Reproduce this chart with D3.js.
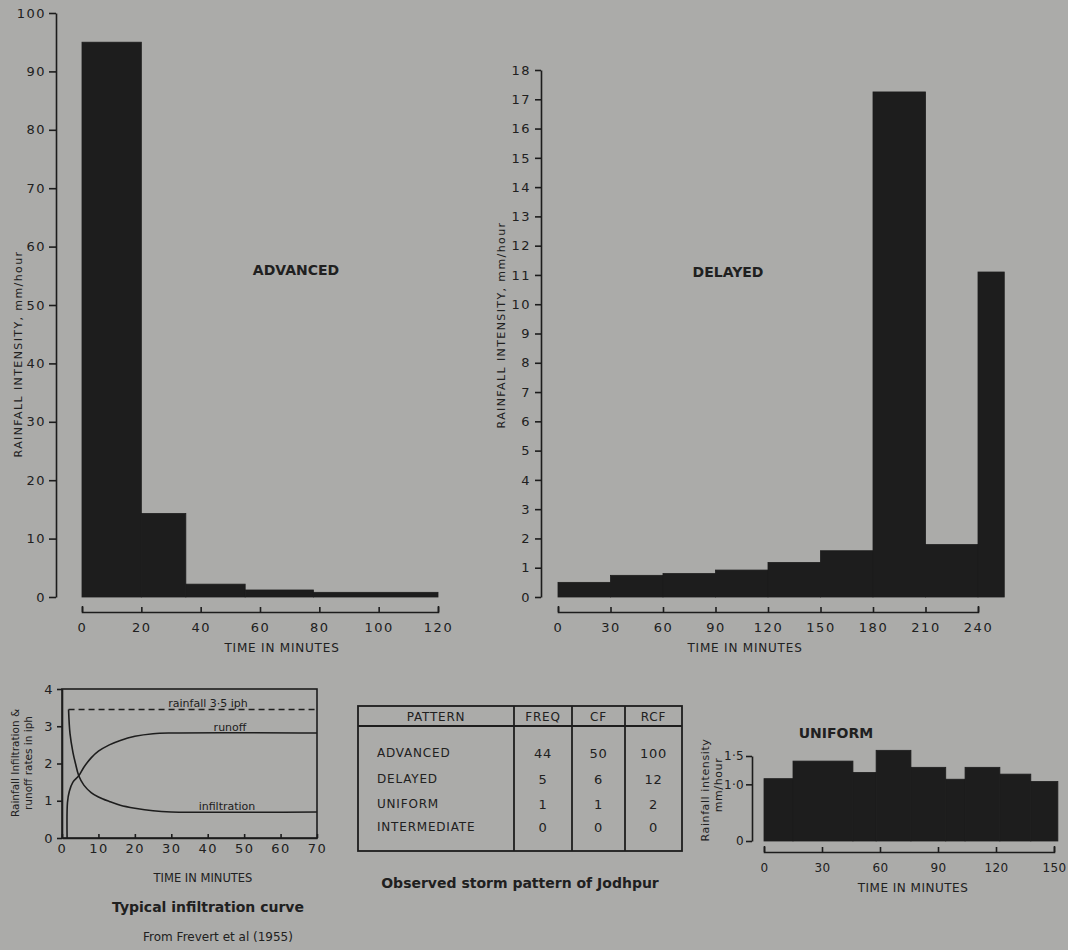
<!DOCTYPE html>
<html>
<head>
<meta charset="utf-8">
<script src="https://cdn.jsdelivr.net/npm/d3@7"></script>
<style>
  body { margin: 0; background: #ababa9; }
  svg text { font-family: "DejaVu Sans", sans-serif; fill: #202020; }
  .axis path, .axis line { stroke: #1c1c1c; stroke-width: 1.6; }
  .axis text { font-size: 13px; letter-spacing: 1.5px; fill: #202020; }
  .axis.small text { font-size: 12px; letter-spacing: 0.3px; }
</style>
</head>
<body>
<svg id="chart" width="1068" height="950"></svg>
<script>
// ADVANCED pattern (bar edges in minutes, intensity mm/hour)
var advEdges = [0, 20, 35, 55, 78, 120];
var advValues = [95, 14.3, 2.2, 1.2, 0.8];
var advYTicks = [0, 10, 20, 30, 40, 50, 60, 70, 80, 90, 100];
var advXTicks = [0, 20, 40, 60, 80, 100, 120];

// DELAYED pattern
var delEdges = [0, 30, 60, 90, 120, 150, 180, 210, 240, 255];
var delValues = [0.5, 0.74, 0.8, 0.92, 1.18, 1.58, 17.25, 1.79, 11.1];
var delYTicks = [0, 1, 2, 3, 4, 5, 6, 7, 8, 9, 10, 11, 12, 13, 14, 15, 16, 17, 18];
var delXTicks = [0, 30, 60, 90, 120, 150, 180, 210, 240];

// UNIFORM pattern
var uniEdges = [0, 15, 46, 58, 76, 94, 104, 122, 138, 152];
var uniValues = [1.1, 1.41, 1.21, 1.6, 1.3, 1.09, 1.3, 1.18, 1.05];
var uniYTicks = [0, 1, 1.5];
var uniYLabels = ["0", "1·0", "1·5"];
var uniXTicks = [0, 30, 60, 90, 120, 150];

// typical infiltration curve (Frevert et al 1955)
var rainT = [1.8, 70];
var rainV = [3.45, 3.45];
var infilT = [1.8, 2.2, 3, 3.7, 4.6, 6, 8, 10, 13, 16, 20, 25, 30, 70];
var infilV = [3.45, 2.8, 2.3, 2.0, 1.67, 1.42, 1.22, 1.1, 0.98, 0.88, 0.8, 0.73, 0.7, 0.7];
var runoffT = [1.4, 1.5, 2, 3, 4.6, 6, 8, 10, 13, 16, 20, 25, 30, 70];
var runoffV = [0, 0.95, 1.25, 1.5, 1.67, 1.9, 2.15, 2.33, 2.5, 2.62, 2.73, 2.8, 2.82, 2.82];
var infYTicks = [0, 1, 2, 3, 4];
var infXTicks = [0, 10, 20, 30, 40, 50, 60, 70];

// table
var tableHeader = ["PATTERN", "FREQ", "CF", "RCF"];
var tablePattern = ["ADVANCED", "DELAYED", "UNIFORM", "INTERMEDIATE"];
var tableFreq = [44, 5, 1, 0];
var tableCF = [50, 6, 1, 0];
var tableRCF = [100, 12, 2, 0];

var ink = "#1d1d1d";
var svg = d3.select("#chart");

svg.append("rect").attr("width", 1068).attr("height", 950).attr("fill", "#ababa9");

function drawBars(g, edges, values, x, y) {
  g.selectAll(".bar")
    .data(values)
    .enter().append("rect")
      .attr("class", "bar")
      .attr("x", function (d, i) { return x(edges[i]); })
      .attr("width", function (d, i) { return x(edges[i + 1]) - x(edges[i]); })
      .attr("y", function (d) { return y(d); })
      .attr("height", function (d) { return y(0) - y(d); })
      .attr("fill", ink)
      .attr("stroke", ink)
      .attr("stroke-width", 0.8);
}

// ---------- ADVANCED ----------
var xA = d3.scaleLinear().domain([0, 120]).range([82, 438]);
var yA = d3.scaleLinear().domain([0, 100]).range([597, 13]);
var gA = svg.append("g");
drawBars(gA, advEdges, advValues, xA, yA);

gA.append("g").attr("class", "axis")
    .attr("transform", "translate(56,0)")
    .call(d3.axisLeft(yA).tickValues(advYTicks).tickSize(7).tickSizeOuter(0).tickPadding(3));
gA.append("g").attr("class", "axis")
    .attr("transform", "translate(0,612)")
    .call(d3.axisBottom(xA).tickValues(advXTicks).tickSize(-5).tickSizeOuter(-6).tickPadding(11));

gA.append("text")
    .attr("transform", "translate(18,354) rotate(-90)")
    .attr("text-anchor", "middle")
    .attr("dy", "0.35em")
    .style("font-size", "11px").style("letter-spacing", "1.4px")
    .text("RAINFALL  INTENSITY, mm/hour");
gA.append("text")
    .attr("x", 282).attr("y", 648).attr("dy", "0.35em")
    .attr("text-anchor", "middle")
    .style("font-size", "12px").style("letter-spacing", "0.8px")
    .text("TIME  IN  MINUTES");
gA.append("text")
    .attr("x", 296).attr("y", 270).attr("dy", "0.35em")
    .attr("text-anchor", "middle")
    .style("font-size", "14px").style("font-weight", "bold")
    .text("ADVANCED");

// ---------- DELAYED ----------
var xB = d3.scaleLinear().domain([0, 240]).range([558, 978]);
var yB = d3.scaleLinear().domain([0, 18]).range([597, 70]);
var gB = svg.append("g");
drawBars(gB, delEdges, delValues, xB, yB);

gB.append("g").attr("class", "axis")
    .attr("transform", "translate(541,0)")
    .call(d3.axisLeft(yB).tickValues(delYTicks).tickSize(6).tickSizeOuter(0).tickPadding(4));
gB.append("g").attr("class", "axis")
    .attr("transform", "translate(0,612)")
    .call(d3.axisBottom(xB).tickValues(delXTicks).tickSize(-5).tickSizeOuter(-6).tickPadding(11));

gB.append("text")
    .attr("transform", "translate(501,325) rotate(-90)")
    .attr("text-anchor", "middle")
    .attr("dy", "0.35em")
    .style("font-size", "11px").style("letter-spacing", "1.4px")
    .text("RAINFALL  INTENSITY, mm/hour");
gB.append("text")
    .attr("x", 745).attr("y", 648).attr("dy", "0.35em")
    .attr("text-anchor", "middle")
    .style("font-size", "12px").style("letter-spacing", "0.8px")
    .text("TIME  IN  MINUTES");
gB.append("text")
    .attr("x", 728).attr("y", 272).attr("dy", "0.35em")
    .attr("text-anchor", "middle")
    .style("font-size", "14px").style("font-weight", "bold")
    .text("DELAYED");

// ---------- infiltration curve ----------
var xC = d3.scaleLinear().domain([0, 70]).range([62, 317]);
var yC = d3.scaleLinear().domain([0, 4]).range([838, 689]);
var gC = svg.append("g");

gC.append("rect")
    .attr("x", xC(0)).attr("y", yC(4))
    .attr("width", xC(70) - xC(0)).attr("height", yC(0) - yC(4))
    .attr("fill", "none").attr("stroke", ink).attr("stroke-width", 1.6);
gC.append("g").attr("class", "axis")
    .attr("transform", "translate(" + xC(0) + ",0)")
    .call(d3.axisLeft(yC).tickValues(infYTicks).tickFormat(d3.format("d"))
      .tickSize(5).tickSizeOuter(0).tickPadding(3));
gC.append("g").attr("class", "axis")
    .attr("transform", "translate(0," + yC(0) + ")")
    .call(d3.axisBottom(xC).tickValues(infXTicks).tickSize(-4).tickSizeOuter(0).tickPadding(6));

var line = d3.line()
    .x(function (d) { return xC(d[0]); })
    .y(function (d) { return yC(d[1]); });

gC.append("path")
    .datum(d3.zip(rainT, rainV))
    .attr("d", line)
    .attr("fill", "none").attr("stroke", ink).attr("stroke-width", 1.6)
    .attr("stroke-dasharray", "6,4");
line.curve(d3.curveCatmullRom.alpha(0.5));
gC.append("path")
    .datum(d3.zip(infilT, infilV))
    .attr("d", line)
    .attr("fill", "none").attr("stroke", ink).attr("stroke-width", 1.6);
gC.append("path")
    .datum(d3.zip(runoffT, runoffV))
    .attr("d", line)
    .attr("fill", "none").attr("stroke", ink).attr("stroke-width", 1.6);

gC.append("text").attr("x", 208).attr("y", 703).attr("dy", "0.35em")
    .attr("text-anchor", "middle").style("font-size", "11px")
    .text("rainfall  3·5  iph");
gC.append("text").attr("x", 230).attr("y", 727).attr("dy", "0.35em")
    .attr("text-anchor", "middle").style("font-size", "11px")
    .text("runoff");
gC.append("text").attr("x", 227).attr("y", 806).attr("dy", "0.35em")
    .attr("text-anchor", "middle").style("font-size", "11px")
    .text("infiltration");

gC.append("text")
    .attr("transform", "translate(15,763) rotate(-90)")
    .attr("text-anchor", "middle").attr("dy", "0.35em")
    .style("font-size", "10.5px")
    .text("Rainfall  Infiltration &");
gC.append("text")
    .attr("transform", "translate(28,763) rotate(-90)")
    .attr("text-anchor", "middle").attr("dy", "0.35em")
    .style("font-size", "10.5px")
    .text("runoff  rates  in  iph");

gC.append("text").attr("x", 203).attr("y", 878).attr("dy", "0.35em")
    .attr("text-anchor", "middle").style("font-size", "11.5px")
    .text("TIME   IN   MINUTES");
gC.append("text").attr("x", 208).attr("y", 907).attr("dy", "0.35em")
    .attr("text-anchor", "middle").style("font-size", "14px").style("font-weight", "bold")
    .text("Typical  infiltration  curve");
gC.append("text").attr("x", 218).attr("y", 937).attr("dy", "0.35em")
    .attr("text-anchor", "middle").style("font-size", "12px")
    .text("From Frevert et al (1955)");

// ---------- table ----------
var gD = svg.append("g");
var colX = [358, 514, 572, 625, 682];
var tTop = 706, tHead = 726, tBottom = 851;
var rowY = [753, 779, 804, 827];

gD.append("rect")
    .attr("x", colX[0]).attr("y", tTop)
    .attr("width", colX[4] - colX[0]).attr("height", tBottom - tTop)
    .attr("fill", "none").attr("stroke", ink).attr("stroke-width", 1.8);
gD.append("line")
    .attr("x1", colX[0]).attr("x2", colX[4]).attr("y1", tHead).attr("y2", tHead)
    .attr("stroke", ink).attr("stroke-width", 1.8);
gD.selectAll(".vline")
    .data(colX.slice(1, 4))
    .enter().append("line")
      .attr("x1", function (d) { return d; }).attr("x2", function (d) { return d; })
      .attr("y1", tTop).attr("y2", tBottom)
      .attr("stroke", ink).attr("stroke-width", 1.8);
gD.selectAll(".head")
    .data(tableHeader)
    .enter().append("text")
      .attr("x", function (d, i) { return (colX[i] + colX[i + 1]) / 2; })
      .attr("y", 717).attr("dy", "0.35em")
      .attr("text-anchor", "middle")
      .style("font-size", "12px").style("letter-spacing", "0.8px")
      .text(function (d) { return d; });
gD.selectAll(".pat")
    .data(tablePattern)
    .enter().append("text")
      .attr("x", 377).attr("y", function (d, i) { return rowY[i]; }).attr("dy", "0.35em")
      .style("font-size", "12px").style("letter-spacing", "0.8px")
      .text(function (d) { return d; });
[tableFreq, tableCF, tableRCF].forEach(function (col, c) {
  gD.selectAll(".col" + c)
    .data(col)
    .enter().append("text")
      .attr("x", (colX[c + 1] + colX[c + 2]) / 2)
      .attr("y", function (d, i) { return rowY[i]; }).attr("dy", "0.35em")
      .attr("text-anchor", "middle")
      .style("font-size", "13px").style("letter-spacing", "0.8px")
      .text(function (d) { return d; });
});
gD.append("text").attr("x", 520).attr("y", 883).attr("dy", "0.35em")
    .attr("text-anchor", "middle").style("font-size", "14px").style("font-weight", "bold")
    .text("Observed  storm  pattern  of  Jodhpur");

// ---------- UNIFORM ----------
var xE = d3.scaleLinear().domain([0, 150]).range([764, 1054]);
var yE = d3.scaleLinear().domain([0, 1.5]).range([841, 756]);
var gE = svg.append("g");
drawBars(gE, uniEdges, uniValues, xE, yE);

gE.append("g").attr("class", "axis small")
    .attr("transform", "translate(752,0)")
    .call(d3.axisLeft(yE).tickValues(uniYTicks).tickSize(6).tickSizeOuter(0).tickPadding(2)
      .tickFormat(function (d, i) { return uniYLabels[i]; }));
gE.append("g").attr("class", "axis small")
    .attr("transform", "translate(0,852)")
    .call(d3.axisBottom(xE).tickValues(uniXTicks).tickSize(-5).tickSizeOuter(-6).tickPadding(11));

gE.append("text")
    .attr("transform", "translate(705,790) rotate(-90)")
    .attr("text-anchor", "middle").attr("dy", "0.35em")
    .style("font-size", "11px").style("letter-spacing", "0.6px")
    .text("Rainfall  intensity");
gE.append("text")
    .attr("transform", "translate(718,785) rotate(-90)")
    .attr("text-anchor", "middle").attr("dy", "0.35em")
    .style("font-size", "11px").style("letter-spacing", "0.6px")
    .text("mm/hour");
gE.append("text").attr("x", 913).attr("y", 888).attr("dy", "0.35em")
    .attr("text-anchor", "middle").style("font-size", "12px").style("letter-spacing", "0.5px")
    .text("TIME  IN  MINUTES");
gE.append("text").attr("x", 836).attr("y", 733).attr("dy", "0.35em")
    .attr("text-anchor", "middle").style("font-size", "14px").style("font-weight", "bold")
    .text("UNIFORM");
</script>
</body>
</html>
